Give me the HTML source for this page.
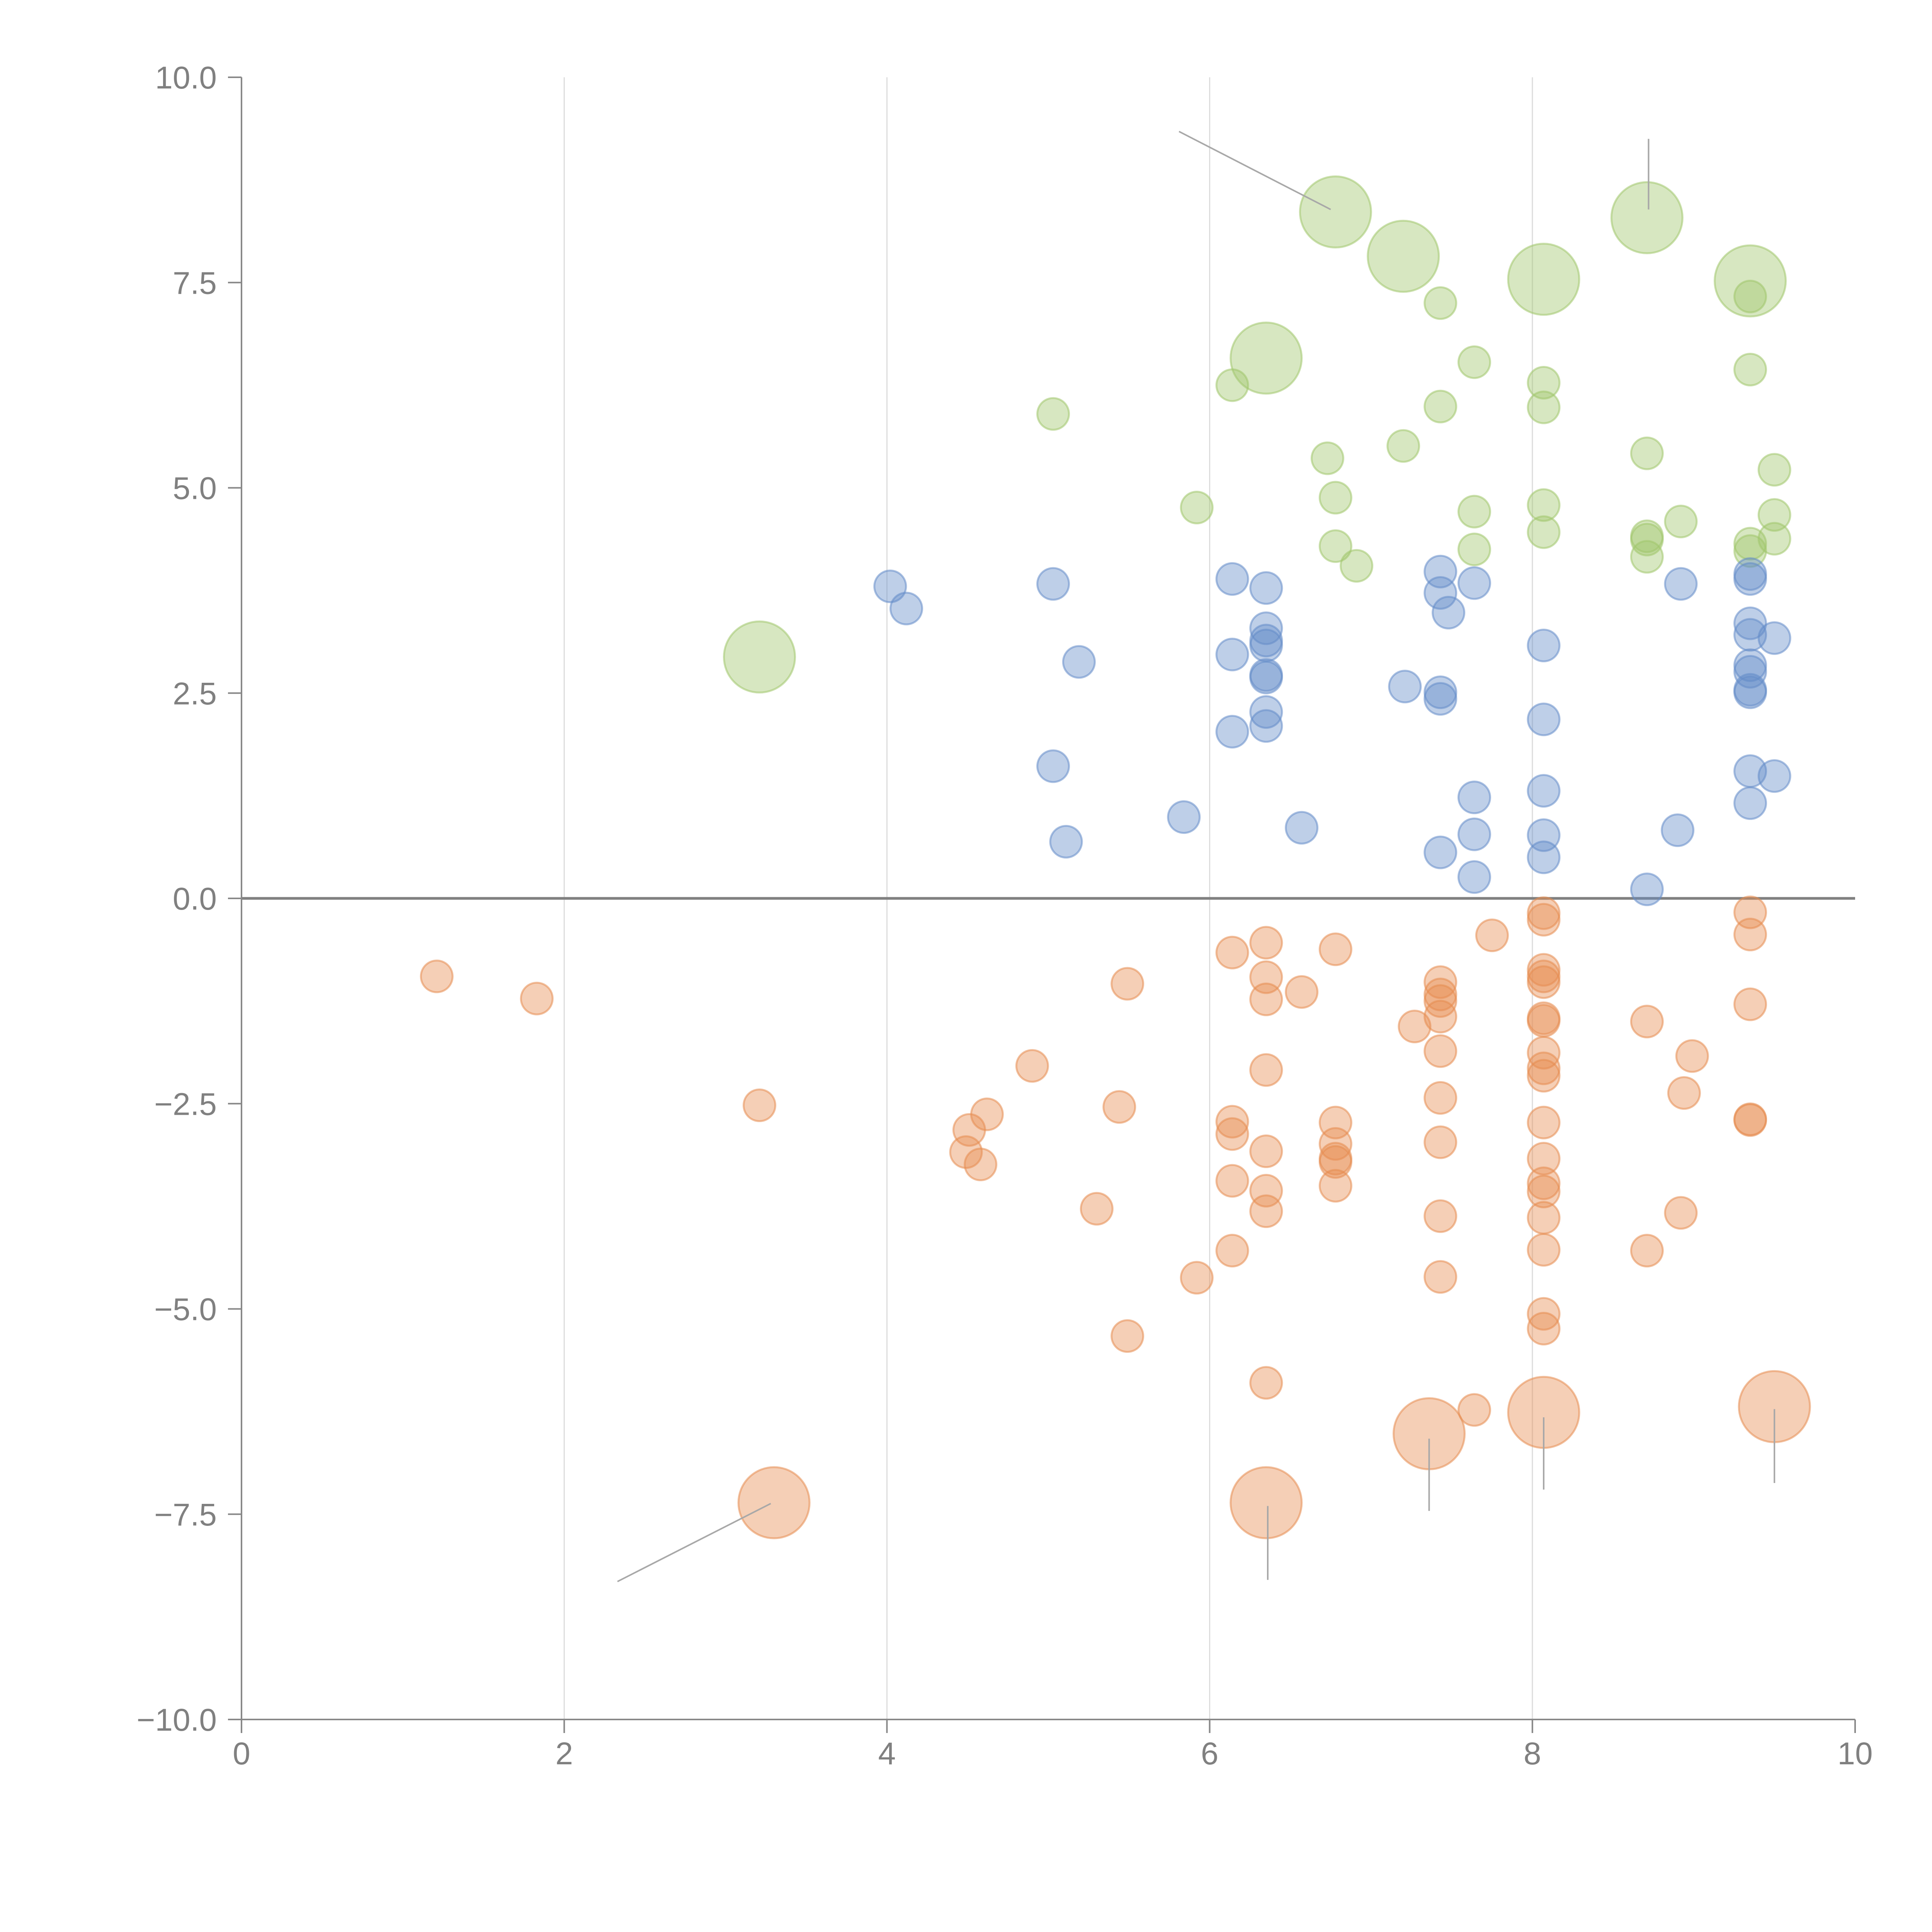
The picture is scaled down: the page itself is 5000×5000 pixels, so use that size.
<!DOCTYPE html>
<html><head><meta charset="utf-8"><style>
html,body{margin:0;padding:0;background:#fff;}
svg{display:block;font-family:"Liberation Sans",Arial,sans-serif;}
</style></head><body>
<svg id="chart" width="5000" height="5000" viewBox="0 0 5000 5000" xmlns="http://www.w3.org/2000/svg"></svg>
<script>
const xTicks=[0,2,4,6,8,10];
const yTicks=[10,7.5,5,2.5,0,-2.5,-5,-7.5,-10];
const yTickLabels=["10.0","7.5","5.0","2.5","0.0","\u22122.5","\u22125.0","\u22127.5","\u221210.0"];
const greenX=[5.03,6.14,5.92,6.73,6.78,6.78,6.91,7.2,7.43,7.43,7.64,7.64,7.64,8.07,8.07,8.07,8.07,8.71,8.71,8.71,8.71,8.92,9.35,9.35,9.35,9.35,9.5,9.5,9.5];
const greenY=[5.9,6.25,4.76,5.36,4.88,4.29,4.05,5.51,7.25,5.99,6.53,4.71,4.25,6.28,5.98,4.79,4.46,5.42,4.41,4.37,4.16,4.59,7.33,6.44,4.32,4.23,5.22,4.67,4.38];
const greenBigX=[3.21,6.35,6.78,7.2,8.07,8.71,9.35];
const greenBigY=[2.94,6.58,8.36,7.82,7.54,8.29,7.52];
const blueX=[4.02,4.12,5.03,5.19,5.03,5.11,5.84,6.14,6.14,6.14,6.35,6.35,6.35,6.35,6.35,6.35,6.35,6.35,6.57,7.21,7.43,7.43,7.48,7.43,7.43,7.43,7.64,7.64,7.64,7.64,8.07,8.07,8.07,8.07,8.07,8.71,8.92,8.9,9.35,9.35,9.35,9.35,9.35,9.35,9.35,9.35,9.35,9.35,9.5,9.5];
const blueY=[3.8,3.53,3.83,2.88,1.61,0.69,0.99,3.89,2.97,2.03,3.78,3.29,3.14,3.08,2.72,2.69,2.27,2.1,0.86,2.58,3.98,3.72,3.48,2.51,2.43,0.56,3.84,1.23,0.78,0.26,3.08,2.18,1.31,0.77,0.5,0.11,3.83,0.83,3.95,3.89,3.35,3.21,2.84,2.76,2.54,2.51,1.55,1.16,3.17,1.49];
const orangeX=[1.21,1.83,3.21,4.51,4.62,4.49,4.58,4.9,5.44,5.3,5.49,5.49,5.92,6.14,6.14,6.14,6.14,6.14,6.35,6.35,6.35,6.35,6.35,6.35,6.35,6.35,6.57,6.78,6.78,6.78,6.78,6.78,6.78,7.27,7.43,7.43,7.43,7.43,7.43,7.43,7.43,7.43,7.43,7.64,7.75,8.07,8.07,8.07,8.07,8.07,8.07,8.07,8.07,8.07,8.07,8.07,8.07,8.07,8.07,8.07,8.07,8.07,8.07,8.71,8.71,8.94,8.99,8.92,9.35,9.35,9.35,9.35,9.35];
const orangeY=[-0.95,-1.22,-2.52,-2.82,-2.63,-3.09,-3.24,-2.04,-2.54,-3.78,-1.04,-5.33,-4.62,-0.66,-2.72,-2.87,-3.44,-4.29,-0.54,-0.96,-1.23,-2.09,-3.08,-3.56,-3.81,-5.9,-1.14,-0.62,-2.73,-2.99,-3.17,-3.21,-3.5,-1.56,-1.02,-1.17,-1.25,-1.44,-1.86,-2.43,-2.97,-3.87,-4.61,-6.23,-0.45,-0.18,-0.26,-0.87,-0.95,-1.02,-1.46,-1.49,-1.88,-2.07,-2.16,-2.73,-3.17,-3.47,-3.57,-3.89,-4.28,-5.06,-5.24,-1.5,-4.29,-2.37,-1.92,-3.83,-0.17,-0.44,-1.29,-2.69,-2.7];
const orangeBigX=[3.3,6.35,7.36,8.07,9.5];
const orangeBigY=[-7.36,-7.36,-6.52,-6.26,-6.19];
const leaderX1=[5.81,8.72,2.33,6.36,7.36,8.07,9.5];
const leaderY1=[9.34,9.25,-8.32,-7.4,-6.58,-6.32,-6.22];
const leaderX2=[6.75,8.72,3.28,6.36,7.36,8.07,9.5];
const leaderY2=[8.39,8.39,-7.37,-8.3,-7.46,-7.2,-7.12];

const X0=625,X1=4801,Y0=4450,Y1=200;
function sx(v){return X0+(v-0)/(10-0)*(X1-X0);}
function sy(v){return Y0-(v+10)/20*(Y0-Y1);}
const NS="http://www.w3.org/2000/svg";
const svg=document.getElementById('chart');
function mk(tag,attrs,parent){const e=document.createElementNS(NS,tag);for(const k in attrs)e.setAttribute(k,attrs[k]);(parent||svg).appendChild(e);return e;}

// grid
xTicks.forEach((t,i)=>{ if(t>0&&t<10){
 const g=mk('line',{x1:sx(t),x2:sx(t),y1:sy(10),y2:sy(-10),stroke:'#dcdcdc','stroke-width':3});
 
 
}});
// zero line
const z=mk('line',{x1:sx(0),x2:sx(10),y1:sy(0),y2:sy(0),stroke:'#808080','stroke-width':7});



function dots(xs,ys,r,fill,name){
 xs.forEach((x,i)=>{
  const c=mk('circle',{cx:sx(x),cy:sy(ys[i]),r:r,fill:fill,'fill-opacity':0.42,stroke:fill,'stroke-opacity':0.55,'stroke-width':5});
  
  
 });
}
dots(greenX,greenY,41,'rgb(160,198,108)','green-bubble');
dots(greenBigX,greenBigY,92,'rgb(160,198,108)','green-large-bubble');
dots(blueX,blueY,41,'rgb(100,140,200)','blue-bubble');
dots(orangeX,orangeY,41,'rgb(230,140,80)','orange-bubble');
dots(orangeBigX,orangeBigY,92,'rgb(230,140,80)','orange-large-bubble');

leaderX1.forEach((x,i)=>{
 const l=mk('line',{x1:sx(x),y1:sy(leaderY1[i]),x2:sx(leaderX2[i]),y2:sy(leaderY2[i]),stroke:'#a8a8a8','stroke-width':4});
 
 
});

// axes
const ya=mk('line',{x1:X0,x2:X0,y1:Y1,y2:Y0,stroke:'#888','stroke-width':4});


const xa=mk('line',{x1:X0,x2:X1,y1:Y0,y2:Y0,stroke:'#888','stroke-width':4});


yTicks.forEach((t,i)=>{
 const tk=mk('line',{x1:X0-35,x2:X0,y1:sy(t),y2:sy(t),stroke:'#888','stroke-width':4});
 
 
 const tx=mk('text',{x:561,y:sy(t)+29,'text-anchor':'end','font-size':82,fill:'#808080'});
 tx.textContent=yTickLabels[i];
 
 
});
xTicks.forEach(t=>{
 const tk=mk('line',{x1:sx(t),x2:sx(t),y1:Y0,y2:Y0+35,stroke:'#888','stroke-width':4});
 
 
 const tx=mk('text',{x:sx(t),y:4566,'text-anchor':'middle','font-size':82,fill:'#808080'});
 tx.textContent=String(t);
 
 
});
</script>
</body></html>
